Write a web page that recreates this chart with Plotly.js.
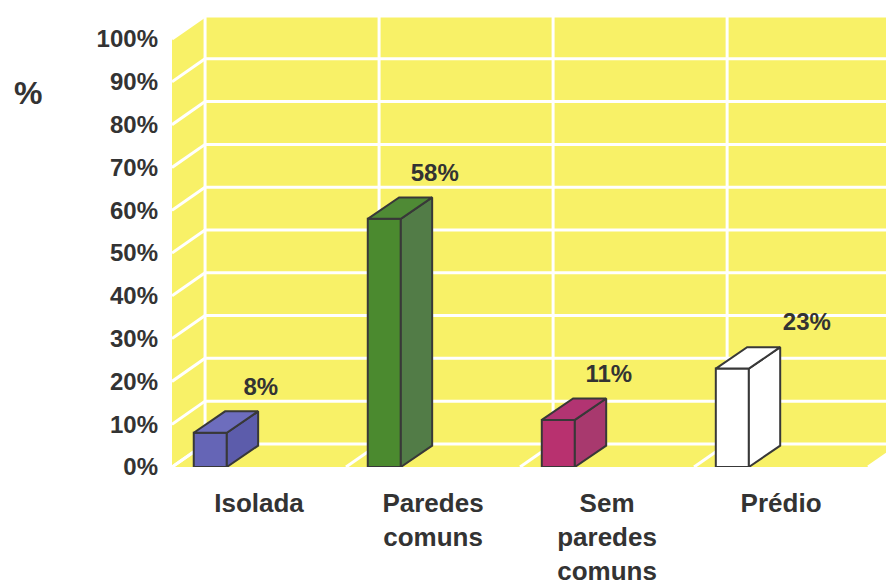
<!DOCTYPE html>
<html>
<head>
<meta charset="utf-8">
<script src="https://cdn.plot.ly/plotly-3.0.1.min.js"></script>
<style>
  html, body { margin: 0; padding: 0; background: #ffffff; }
  #chart { width: 886px; height: 585px; }
</style>
</head>
<body>
<div id="chart"></div>
<script>
// Housing type shares (%)
const categories = ['Isolada', 'Paredes<br>comuns', 'Sem<br>paredes<br>comuns', 'Prédio'];
const values = [8, 58, 11, 23];
const valueLabels = ['8%', '58%', '11%', '23%'];
const yTickValues = [0, 10, 20, 30, 40, 50, 60, 70, 80, 90, 100];
const yTickLabels = ['0%', '10%', '20%', '30%', '40%', '50%', '60%', '70%', '80%', '90%', '100%'];

// Face colours of each box: front, right side, top
const frontColors = ['#6565b6', '#4b8a2f', '#b8316f', '#ffffff'];
const sideColors  = ['#5c5cab', '#527c47', '#a8396e', '#ffffff'];
const topColors   = ['#6d6dbd', '#4f8a35', '#b23472', '#ffffff'];

// Pseudo-3D geometry (in axis units)
const BAR_OFFSET = -0.375;   // front face starts this far left of the category centre
const BAR_WIDTH = 0.19;
const BAR_DX = 0.18;         // box depth, horizontal part
const BAR_DY = 5.0;          // box depth, vertical part
const WALL_DX = 0.19;        // wall depth
const WALL_DY = 5.39;
const X_MIN = -0.5, X_MAX = 3.603;
const Y_MAX = 100 + WALL_DY;

const outline = '#383838';
const wallColor = '#f8f167';
const gridColor = '#ffffff';
const font = 'Liberation Sans, Arial, sans-serif';
const textColor = '#333333';

const xs = categories.map((_, i) => i);

const traces = [];

// Front faces
traces.push({
  type: 'bar',
  x: xs,
  y: values,
  offset: BAR_OFFSET,
  width: BAR_WIDTH,
  marker: { color: frontColors, line: { color: outline, width: 2 } },
  hoverinfo: 'skip'
});

// Right side and top faces
values.forEach((v, i) => {
  const x0 = i + BAR_OFFSET;
  const x1 = x0 + BAR_WIDTH;
  traces.push({
    type: 'scatter', mode: 'lines', fill: 'toself',
    x: [x1, x1 + BAR_DX, x1 + BAR_DX, x1, x1],
    y: [0, BAR_DY, v + BAR_DY, v, 0],
    fillcolor: sideColors[i],
    line: { color: outline, width: 2 },
    hoverinfo: 'skip'
  });
  traces.push({
    type: 'scatter', mode: 'lines', fill: 'toself',
    x: [x0, x1, x1 + BAR_DX, x0 + BAR_DX, x0],
    y: [v, v, v + BAR_DY, v + BAR_DY, v],
    fillcolor: topColors[i],
    line: { color: outline, width: 2 },
    hoverinfo: 'skip'
  });
});

// Value labels above the boxes
traces.push({
  type: 'scatter', mode: 'text',
  x: xs.map(i => i + 0.01),
  y: values.map(v => v + BAR_DY + 2.5),
  text: valueLabels,
  textposition: ['top center', 'top center', 'top center', 'top right'],
  textfont: { family: font, size: 24, weight: 'bold', color: textColor },
  hoverinfo: 'skip'
});

// Walls, floor and their grid
const shapes = [];
const wall = (path) => shapes.push({ type: 'path', xref: 'x', yref: 'y', layer: 'below', path, fillcolor: wallColor, line: { width: 0 } });
const gline = (xa, ya, xb, yb) => shapes.push({ type: 'line', xref: 'x', yref: 'y', layer: 'below', x0: xa, y0: ya, x1: xb, y1: yb, line: { color: gridColor, width: 3 } });

const bx = X_MIN + WALL_DX;
// side wall
wall(`M ${X_MIN} 0 L ${X_MIN} 100 L ${bx} ${Y_MAX} L ${bx} ${WALL_DY} Z`);
// back wall
wall(`M ${bx} ${WALL_DY} L ${bx} ${Y_MAX} L ${X_MAX + 1} ${Y_MAX} L ${X_MAX + 1} ${WALL_DY} Z`);
// floor
wall(`M ${X_MIN} 0 L ${3.5} 0 L ${3.5 + WALL_DX} ${WALL_DY} L ${bx} ${WALL_DY} Z`);

yTickValues.forEach(t => {
  gline(X_MIN, t, bx, t + WALL_DY);
  gline(bx, t + WALL_DY, X_MAX + 1, t + WALL_DY);
});
for (let k = 0; k <= 4; k++) {
  const fx = X_MIN + k;
  gline(fx, 0, fx + WALL_DX, WALL_DY);
  gline(fx + WALL_DX, WALL_DY, fx + WALL_DX, Y_MAX);
}

const layout = {
  width: 886,
  height: 585,
  margin: { l: 172, r: 0, t: 16, b: 118 },
  paper_bgcolor: '#ffffff',
  plot_bgcolor: 'rgba(0,0,0,0)',
  showlegend: false,
  xaxis: {
    range: [X_MIN, X_MAX],
    showgrid: false, zeroline: false, showline: false,
    tickmode: 'array', tickvals: xs, ticktext: categories,
    ticks: '', ticklabelstandoff: 18,
    tickfont: { family: font, size: 26, weight: 'bold', color: textColor },
    fixedrange: true
  },
  yaxis: {
    range: [0, Y_MAX],
    showgrid: false, zeroline: false, showline: false,
    tickmode: 'array', tickvals: yTickValues, ticktext: yTickLabels,
    ticks: '', ticklabelstandoff: 13,
    tickfont: { family: font, size: 24, weight: 'bold', color: textColor },
    fixedrange: true
  },
  shapes,
  annotations: [{
    xref: 'paper', yref: 'paper',
    x: (28 - 172) / 714, y: (467 - 93) / 451,
    xanchor: 'center', yanchor: 'middle',
    text: '%', showarrow: false,
    font: { family: font, size: 32, weight: 'bold', color: textColor }
  }]
};

Plotly.newPlot('chart', traces, layout, { displayModeBar: false, staticPlot: true });
</script>
</body>
</html>
